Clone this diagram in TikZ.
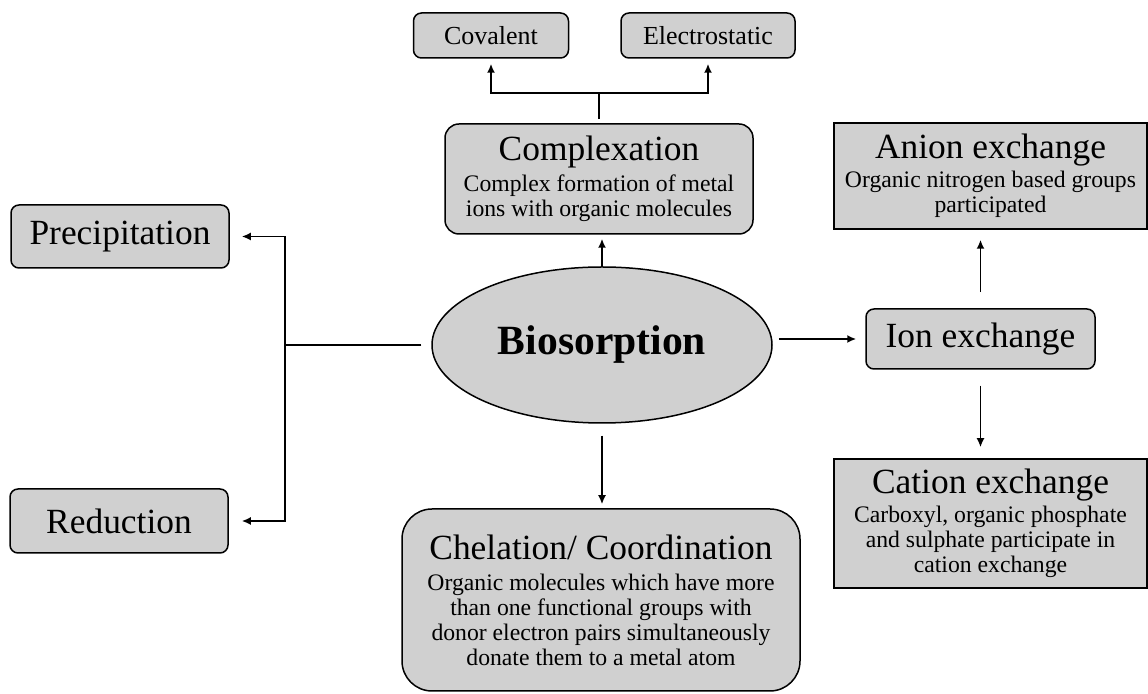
\documentclass[tikz,border=0pt]{standalone}
\usepackage{fontspec}
\setmainfont{Liberation Serif}
\usetikzlibrary{shapes.geometric,arrows.meta}
\definecolor{boxgray}{RGB}{208,208,208}
\newcommand{\ttl}{\fontsize{17.7}{21}\selectfont}
\begin{document}
\begin{tikzpicture}[x=0.5pt, y=-0.5pt, -{Latex[length=4.5pt,width=4pt]}, line width=0.95pt,
    main node/.style={draw, line width=0.75pt, fill=boxgray, rounded corners=4pt, inner sep=0pt, align=center, font=\fontsize{11.85}{12.5}\selectfont},
    sub node/.style={main node, rounded corners=0pt}]
        \useasboundingbox (0,0) rectangle (1148,694);

          \node[main node, minimum width=77.5pt, minimum height=22.5pt, font=\fontsize{13}{15}\selectfont] (1) at (491,35.5) {Covalent};
          \node[main node, minimum width=87pt, minimum height=22.5pt, font=\fontsize{13}{15}\selectfont] (2) at (708,35.5) {Electrostatic};
          \node[main node, rounded corners=7pt, minimum width=154pt, minimum height=55pt] (3) at (599,179) {{\ttl Complexation}\\[3pt] Complex formation of metal\\ ions with organic molecules};
          \node[ellipse, draw, fill=boxgray, line width=0.75pt, minimum width=170pt, minimum height=78pt, inner sep=0pt, font=\bfseries\fontsize{20.8}{24}\selectfont] (4) at (602,345) {Biosorption};
          \node[main node, minimum width=109pt, minimum height=31.5pt, font=\ttl] (5) at (120,236.5) {Precipitation};
          \node[main node, minimum width=109pt, minimum height=32pt, font=\ttl] (6) at (119,521) {Reduction};
          \node[main node, minimum width=114.5pt, minimum height=30pt, font=\ttl] (7) at (980.5,339) {Ion exchange};
          \node[sub node, minimum width=156.5pt, minimum height=53pt] (8) at (990.5,176) {{\ttl Anion exchange}\\[2pt] Organic nitrogen based groups\\ participated};
          \node[sub node, minimum width=156.5pt, minimum height=64.5pt] (9) at (990.5,523.5) {{\ttl Cation exchange}\\[2pt] Carboxyl, organic phosphate\\ and sulphate participate in\\ cation exchange};
          \node[main node, rounded corners=15pt, minimum width=199pt, minimum height=91pt] (10) at (601,600) {{\ttl Chelation/ Coordination}\\[3pt] Organic molecules which have more\\ than one functional groups with\\ donor electron pairs simultaneously\\ donate them to a metal atom};

          \coordinate (s1) at (599,93);
          \coordinate (s2) at (285,345);

          \draw[-, shorten <=2pt] (3.north) -- (s1);
          \draw[shorten >=2.5pt] (s1) -| (1.south);
          \draw[shorten >=2.5pt] (s1) -| (2.south);
          \draw[shorten >=2pt] (4.north) -- (4.north |- 3.south);
          \draw[-, shorten <=5pt] (4.west) -- (s2);
          \draw[shorten >=6pt] (s2) |- (5.east);
          \draw[shorten >=6.5pt] (s2) |- (6.east);
          \draw[shorten <=3pt, shorten >=4.5pt] (4.east |- 7.west) -- (7.west);
          \draw[shorten <=8pt, shorten >=5pt] (7.north) -- (7.north |- 8.south);
          \draw[shorten <=8pt, shorten >=5.5pt] (7.south) -- (7.south |- 9.north);
          \draw[shorten <=6pt, shorten >=2pt] (4.south) -- (4.south |- 10.north);

        \end{tikzpicture}
\end{document}
